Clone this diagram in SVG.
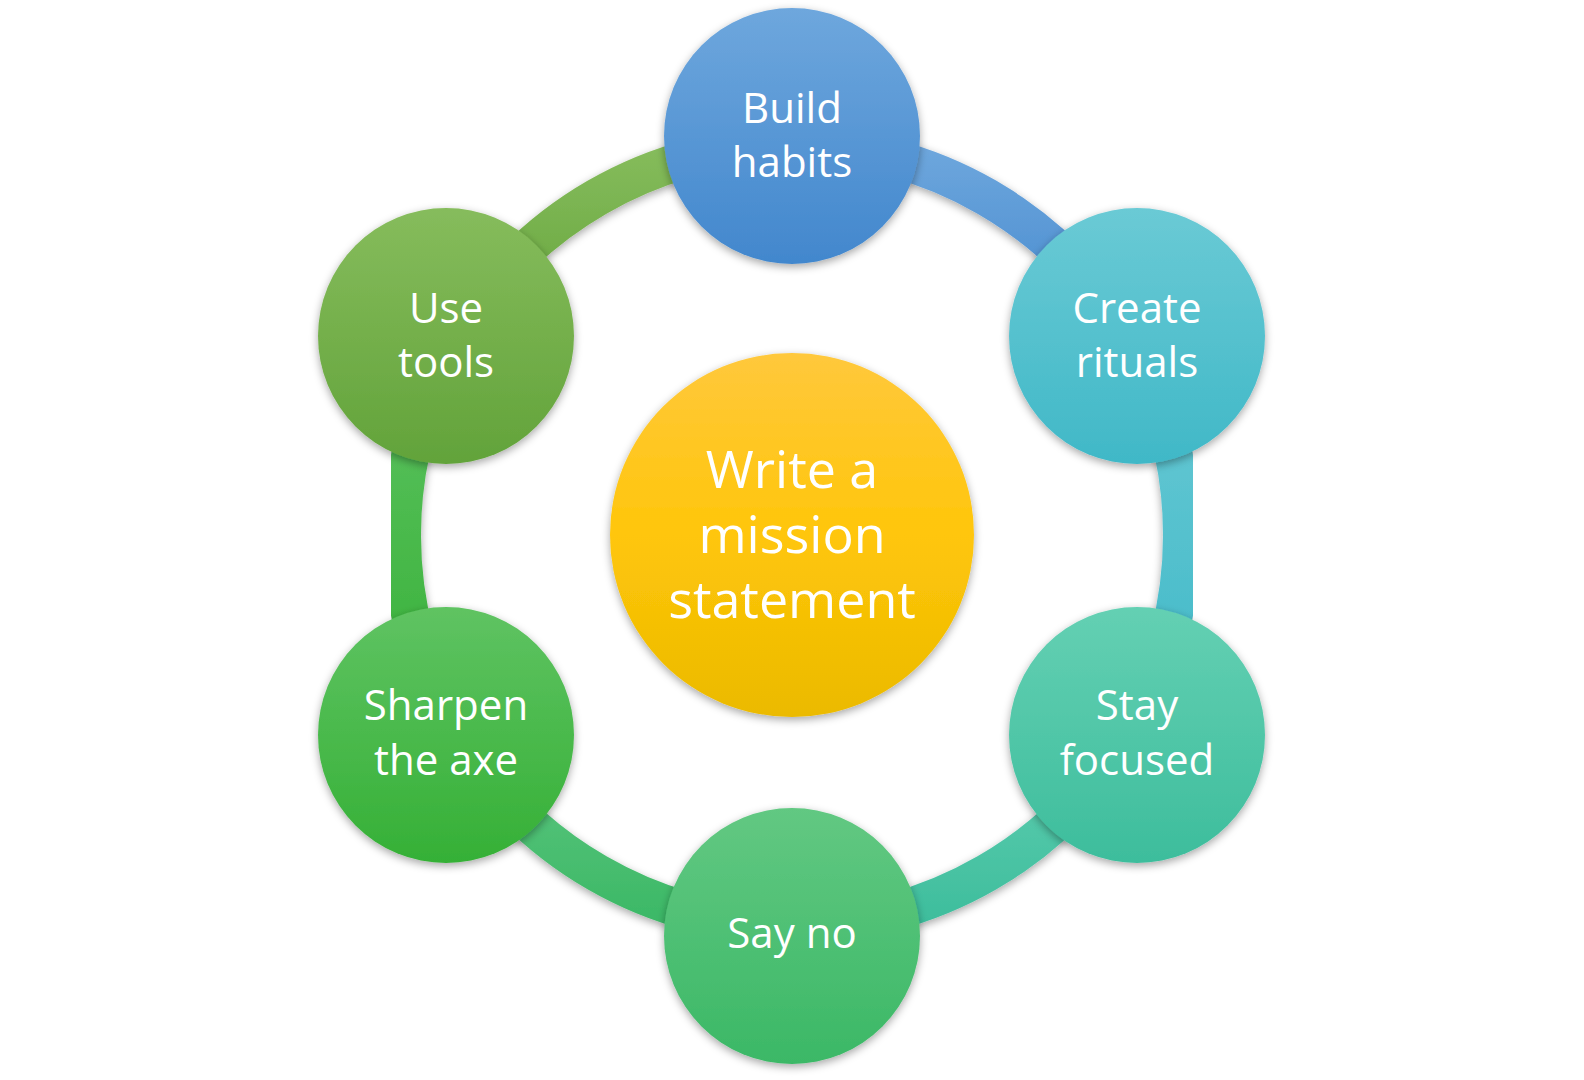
<svg xmlns="http://www.w3.org/2000/svg" width="1584" height="1080" viewBox="0 0 1584 1080">
<style>
  .lbl { font-family: "Open Sans", "Liberation Sans", sans-serif; fill: #ffffff; text-anchor: middle; font-size: 42px; }
  .big { font-size: 52px; }
  .arc { fill: none; stroke-width: 38; }
  .node { filter: url(#sh); }
</style>
<defs>
  <filter id="sh" x="-20%" y="-20%" width="140%" height="140%">
    <feDropShadow dx="0" dy="3" stdDeviation="4" flood-color="#000" flood-opacity="0.35"/>
  </filter>
  <linearGradient id="gBlue" x1="0" y1="0" x2="0" y2="1"><stop offset="0" stop-color="#6ea7dd"/><stop offset="1" stop-color="#4287cd"/></linearGradient>
  <linearGradient id="gTeal" x1="0" y1="0" x2="0" y2="1"><stop offset="0" stop-color="#6acad5"/><stop offset="1" stop-color="#40b8c7"/></linearGradient>
  <linearGradient id="gAqua" x1="0" y1="0" x2="0" y2="1"><stop offset="0" stop-color="#64d0b3"/><stop offset="1" stop-color="#3dbd9c"/></linearGradient>
  <linearGradient id="gGreen" x1="0" y1="0" x2="0" y2="1"><stop offset="0" stop-color="#62c882"/><stop offset="1" stop-color="#3bb866"/></linearGradient>
  <linearGradient id="gLime" x1="0" y1="0" x2="0" y2="1"><stop offset="0" stop-color="#5fc362"/><stop offset="1" stop-color="#35b036"/></linearGradient>
  <linearGradient id="gOlive" x1="0" y1="0" x2="0" y2="1"><stop offset="0" stop-color="#86bc5c"/><stop offset="1" stop-color="#62a33a"/></linearGradient>
  <linearGradient id="gGold" x1="0" y1="0" x2="0" y2="1"><stop offset="0" stop-color="#ffc83c"/><stop offset="0.5" stop-color="#ffc60a"/><stop offset="1" stop-color="#ebba00"/></linearGradient>
</defs>
<rect width="1584" height="1080" fill="#ffffff"/>
<g id="connectors">
  <path class="arc node" stroke="url(#gBlue)" d="M792,145 A390,390 0 0 1 1129.75,340"/>
  <path class="arc node" stroke="url(#gTeal)" d="M1129.75,340 A390,390 0 0 1 1129.75,730"/>
  <path class="arc node" stroke="url(#gAqua)" d="M1129.75,730 A390,390 0 0 1 792,925"/>
  <path class="arc node" stroke="url(#gGreen)" d="M792,925 A390,390 0 0 1 454.25,730"/>
  <path class="arc node" stroke="url(#gLime)" d="M454.25,730 A390,390 0 0 1 454.25,340"/>
  <path class="arc node" stroke="url(#gOlive)" d="M454.25,340 A390,390 0 0 1 792,145"/>
</g>
<g id="center">
  <circle class="node" cx="792" cy="535" r="182" fill="url(#gGold)"/>
  <text class="lbl big" x="792" y="488">Write a</text>
  <text class="lbl big" x="792" y="553">mission</text>
  <text class="lbl big" x="792" y="618">statement</text>
</g>
<g id="build-habits">
  <circle class="node" cx="792" cy="136" r="128" fill="url(#gBlue)"/>
  <text class="lbl" x="792" y="123">Build</text>
  <text class="lbl" x="792" y="177">habits</text>
</g>
<g id="create-rituals">
  <circle class="node" cx="1137" cy="336" r="128" fill="url(#gTeal)"/>
  <text class="lbl" x="1137" y="323">Create</text>
  <text class="lbl" x="1137" y="377">rituals</text>
</g>
<g id="stay-focused">
  <circle class="node" cx="1137" cy="735" r="128" fill="url(#gAqua)"/>
  <text class="lbl" x="1137" y="720">Stay</text>
  <text class="lbl" x="1137" y="775">focused</text>
</g>
<g id="say-no">
  <circle class="node" cx="792" cy="936" r="128" fill="url(#gGreen)"/>
  <text class="lbl" x="792" y="948">Say no</text>
</g>
<g id="sharpen-the-axe">
  <circle class="node" cx="446" cy="735" r="128" fill="url(#gLime)"/>
  <text class="lbl" x="446" y="720">Sharpen</text>
  <text class="lbl" x="446" y="775">the axe</text>
</g>
<g id="use-tools">
  <circle class="node" cx="446" cy="336" r="128" fill="url(#gOlive)"/>
  <text class="lbl" x="446" y="323">Use</text>
  <text class="lbl" x="446" y="377">tools</text>
</g>
</svg>
